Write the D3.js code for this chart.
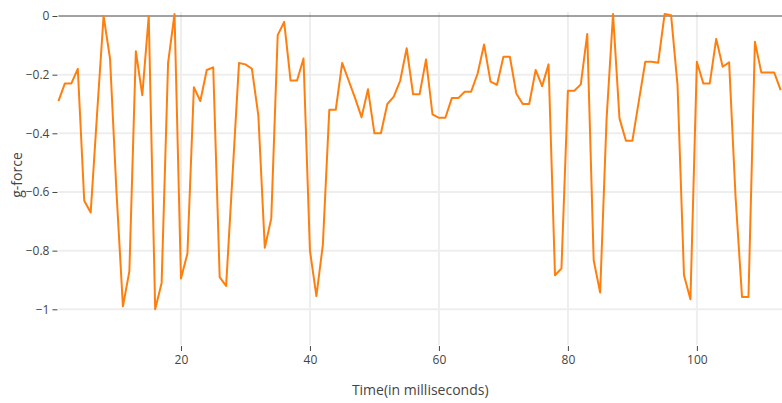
<!DOCTYPE html>
<html><head><meta charset="utf-8">
<script src="https://cdn.jsdelivr.net/npm/d3@7"></script>
<style>body{margin:0;background:#fff;} text{font-family:"Open Sans",sans-serif;}</style>
</head><body><svg id="c" width="782" height="403"></svg>
<script>
const times = d3.range(1, 114);
const gforce = [
 -0.29,-0.23,-0.23,-0.18,-0.63,-0.67,-0.33,0.0,-0.145,-0.6,
 -0.99,-0.87,-0.12,-0.27,0.0,-1.0,-0.91,-0.16,0.007,-0.895,
 -0.81,-0.243,-0.29,-0.184,-0.175,-0.89,-0.92,-0.54,-0.16,-0.165,
 -0.18,-0.34,-0.79,-0.69,-0.065,-0.02,-0.22,-0.22,-0.145,-0.80,
 -0.955,-0.78,-0.32,-0.32,-0.16,-0.22,-0.28,-0.345,-0.25,-0.40,
 -0.40,-0.30,-0.275,-0.22,-0.11,-0.267,-0.267,-0.148,-0.335,-0.347,
 -0.347,-0.28,-0.28,-0.258,-0.258,-0.196,-0.097,-0.224,-0.235,-0.139,
 -0.139,-0.264,-0.30,-0.30,-0.184,-0.239,-0.165,-0.884,-0.861,-0.255,
 -0.255,-0.233,-0.061,-0.833,-0.943,-0.35,0.007,-0.349,-0.425,-0.425,
 -0.29,-0.156,-0.156,-0.159,0.007,0.003,-0.235,-0.884,-0.966,-0.156,
 -0.23,-0.23,-0.078,-0.173,-0.158,-0.617,-0.958,-0.958,-0.088,-0.193,
 -0.193,-0.193,-0.253
];
const xTicks = [20,40,60,80,100];
const yTicks = [0,-0.2,-0.4,-0.6,-0.8,-1];

const svg = d3.select("#c");
const L = 58.45, R = 782, T = 12, B = 345;
const x = d3.scaleLinear().domain([1, 113.2]).range([L, R]);
const y = d3.scaleLinear().domain([0, -1]).range([16, 309.3]);

const g = svg.append("g");
// grid
g.selectAll(".vg").data(xTicks).join("line")
  .attr("x1", d=>x(d)).attr("x2", d=>x(d)).attr("y1", T).attr("y2", B)
  .attr("stroke", "#eee").attr("stroke-width", 2);
g.selectAll(".hg").data(yTicks.filter(d=>d!==0)).join("line")
  .attr("x1", L).attr("x2", R).attr("y1", d=>y(d)).attr("y2", d=>y(d))
  .attr("stroke", "#eee").attr("stroke-width", 2);
// zero line
g.append("line").attr("x1", L).attr("x2", R).attr("y1", y(0)).attr("y2", y(0))
  .attr("stroke", "#444").attr("stroke-width", 1);

// axes
const fmt = d => d === 0 ? "0" : d3.format("")(d).replace("-", "\u2212");
const ya = svg.append("g").attr("transform", `translate(${L-1},0)`)
  .call(d3.axisLeft(y).tickValues(yTicks).tickSize(5).tickPadding(3).tickFormat(fmt));
ya.select(".domain").remove();
ya.selectAll("line").attr("stroke", "#444");
ya.selectAll("text").attr("fill", "#444").style("font-size", "12px").style("font-family", "'Open Sans',sans-serif");

const xa = svg.append("g").attr("transform", `translate(0,${B+1})`)
  .call(d3.axisBottom(x).tickValues(xTicks).tickSize(5).tickPadding(4).tickFormat(d3.format("d")));
xa.select(".domain").remove();
xa.selectAll("line").attr("stroke", "#444");
xa.selectAll("text").attr("fill", "#444").style("font-size", "12px").style("font-family", "'Open Sans',sans-serif");

// line
const data = times.map((t,i)=>[t, gforce[i]]);
svg.append("path").datum(data)
  .attr("fill", "none").attr("stroke", "#ff7f0e").attr("stroke-width", 2)
  .attr("stroke-linejoin", "round")
  .attr("d", d3.line().x(d=>x(d[0])).y(d=>y(d[1])));

// titles
svg.append("text").attr("x", (L+R)/2).attr("y", 395).attr("text-anchor", "middle")
  .attr("fill", "#444").style("font-size", "14px").text("Time(in milliseconds)");
svg.append("text").attr("transform", `translate(22,175) rotate(-90)`).attr("text-anchor", "middle")
  .attr("fill", "#444").style("font-size", "14px").text("g-force");
</script></body></html>
